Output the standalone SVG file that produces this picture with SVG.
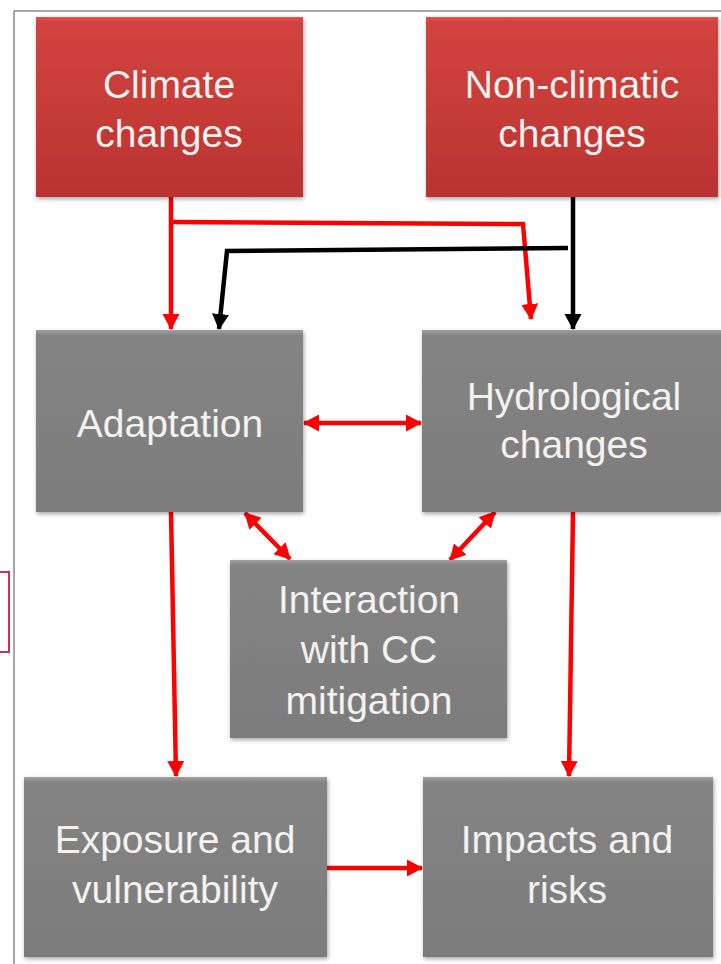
<svg xmlns="http://www.w3.org/2000/svg" width="721" height="964" viewBox="0 0 721 964">
<defs>
<style>
.lbl{font-family:"Liberation Sans",Arial,sans-serif;font-size:39px;fill:#f4f2f0;text-anchor:middle}
.gray{fill:url(#gg);filter:url(#sh)}
.redb{fill:url(#rg);filter:url(#sh)}
.r{fill:none;stroke:#ff0000;stroke-width:4.5}
.k{fill:none;stroke:#000;stroke-width:4.5}
</style>
<linearGradient id="gg" x1="0" y1="0" x2="0" y2="1">
<stop offset="0" stop-color="#a0a0a0"/>
<stop offset="0.03" stop-color="#848484"/>
<stop offset="1" stop-color="#7c7c7c"/>
</linearGradient>
<linearGradient id="rg" x1="0" y1="0" x2="0" y2="1">
<stop offset="0" stop-color="#e0524d"/>
<stop offset="0.03" stop-color="#d2433f"/>
<stop offset="1" stop-color="#ba3331"/>
</linearGradient>
<filter id="sh" x="-5%" y="-5%" width="112%" height="115%">
<feDropShadow dx="1" dy="2" stdDeviation="2" flood-color="#000" flood-opacity="0.35"/>
</filter>
<marker id="ar" markerUnits="userSpaceOnUse" markerWidth="18" markerHeight="20" refX="15" refY="10" orient="auto-start-reverse">
<path d="M0,1.5 L16,10 L0,18.5 Z" fill="#ff0000"/>
</marker>
<marker id="ak" markerUnits="userSpaceOnUse" markerWidth="18" markerHeight="20" refX="15" refY="10" orient="auto">
<path d="M0,1.5 L16,10 L0,18.5 Z" fill="#000"/>
</marker>
</defs>
<rect width="721" height="964" fill="#fff"/>
<g id="frame">
<path d="M14,964 L14,11 L721,11" fill="none" stroke="#8c8c8c" stroke-width="1.5"/>
<rect x="-2" y="572" width="11" height="80" fill="none" stroke="#d42a5c" stroke-width="2"/>
</g>
<g id="connectors">
<path class="r" d="M171,197 L171,329" marker-end="url(#ar)"/>
<path class="r" d="M171,222 L523,224 L531,319" marker-end="url(#ar)"/>
<path class="k" d="M573,197 L573,329" marker-end="url(#ak)"/>
<path class="k" d="M568,248 L227,251 L219,329" marker-end="url(#ak)"/>
<path class="r" d="M304,423 L421,423" marker-start="url(#ar)" marker-end="url(#ar)"/>
<path class="r" d="M245,513 L290,559" marker-start="url(#ar)" marker-end="url(#ar)"/>
<path class="r" d="M495,512 L450,560" marker-start="url(#ar)" marker-end="url(#ar)"/>
<path class="r" d="M171,512 L176,776" marker-end="url(#ar)"/>
<path class="r" d="M573,512 L569,776" marker-end="url(#ar)"/>
<path class="r" d="M327,868 L422,868" marker-end="url(#ar)"/>
</g>
<g id="climate">
<rect class="redb" x="36" y="17" width="267" height="180"/>
<text class="lbl" x="169" y="98">Climate</text>
<text class="lbl" x="169" y="147">changes</text>
</g>
<g id="nonclimatic">
<rect class="redb" x="426" y="17" width="292" height="180"/>
<text class="lbl" x="572" y="98">Non-climatic</text>
<text class="lbl" x="572" y="147">changes</text>
</g>
<g id="adaptation">
<rect class="gray" x="36" y="330" width="267" height="182"/>
<text class="lbl" x="170" y="437">Adaptation</text>
</g>
<g id="hydrological">
<rect class="gray" x="422" y="330" width="299" height="182"/>
<text class="lbl" x="574" y="410">Hydrological</text>
<text class="lbl" x="574" y="458">changes</text>
</g>
<g id="interaction">
<rect class="gray" x="230" y="560" width="277" height="178"/>
<text class="lbl" x="369" y="613">Interaction</text>
<text class="lbl" x="369" y="663">with CC</text>
<text class="lbl" x="369" y="714">mitigation</text>
</g>
<g id="exposure">
<rect class="gray" x="24" y="777" width="303" height="180"/>
<text class="lbl" x="175" y="853">Exposure and</text>
<text class="lbl" x="175" y="903">vulnerability</text>
</g>
<g id="impacts">
<rect class="gray" x="423" y="777" width="290" height="180"/>
<text class="lbl" x="567" y="853">Impacts and</text>
<text class="lbl" x="567" y="903">risks</text>
</g>
</svg>
